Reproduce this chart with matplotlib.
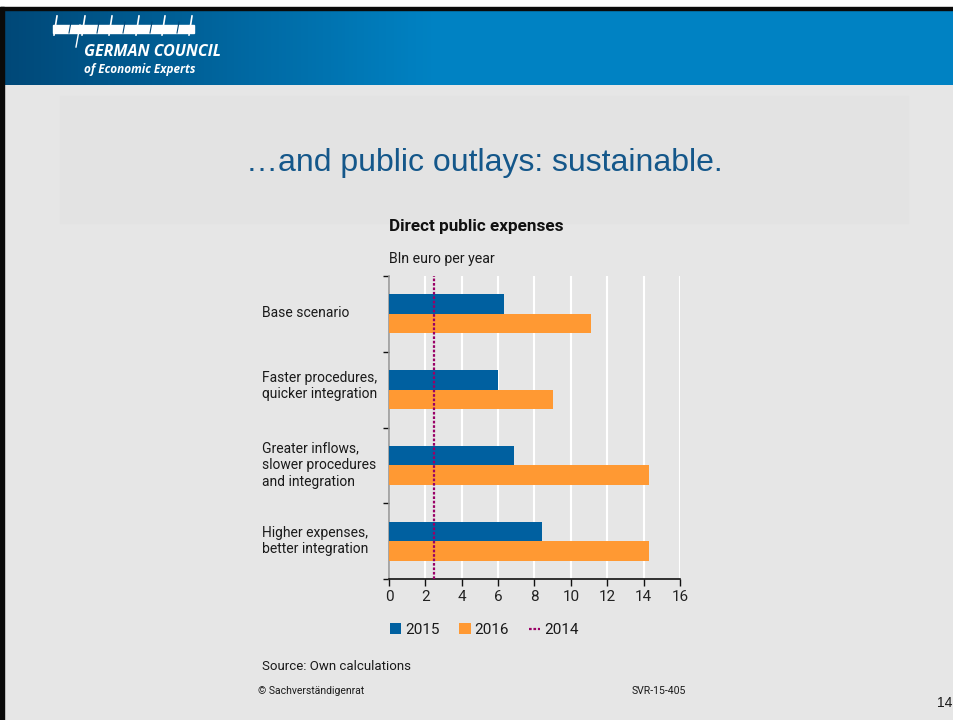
import numpy as np
import matplotlib
matplotlib.use("Agg")
import matplotlib.pyplot as plt
from matplotlib.patches import Rectangle, Patch
from matplotlib.lines import Line2D

# Scenario data (bn euro per year)
categories = [
    "Base scenario",
    "Faster procedures,\nquicker integration",
    "Greater inflows,\nslower procedures\nand integration",
    "Higher expenses,\nbetter integration",
]
values_2015 = [6.3, 6.0, 6.9, 8.4]
values_2016 = [11.1, 9.0, 14.3, 14.3]
value_2014 = 2.45
x_ticks = [0, 2, 4, 6, 8, 10, 12, 14, 16]

BLUE = "#0060a0"
ORANGE = "#ff9933"
PURPLE = "#990066"
BG = "#e6e6e6"
TXT_FONT = ["Roboto", "DejaVu Sans"]

W, H = 954, 720
fig = plt.figure(figsize=(W / 100, H / 100), dpi=100, facecolor=BG)


def fx(px):
    return px / W


def fy(py):
    return 1 - py / H


# Slide decoration layer in pixel coordinates
deco = fig.add_axes([0, 0, 1, 1], zorder=0)
deco.set_xlim(0, W)
deco.set_ylim(H, 0)
deco.axis("off")
deco.add_patch(Rectangle((0, 0), W, 7, color="white", zorder=1))
deco.add_patch(Rectangle((0, 7), W, 3, color="#0a0a0a", zorder=2))
deco.add_patch(Rectangle((0, 7), 4, H, color="#0a0a0a", zorder=2))
grad = np.linspace(0, 1, 256)
grad = np.clip(grad / 0.45, 0, 1)
c0 = np.array([0x00, 0x48, 0x78]) / 255
c1 = np.array([0x00, 0x82, 0xc3]) / 255
img = (c0[None, :] * (1 - grad[:, None]) + c1[None, :] * grad[:, None])[None, :, :]
deco.imshow(img, extent=(4, W, 85, 10), aspect="auto", zorder=1.5)
deco.add_patch(Rectangle((60, 96), 848, 127, color="#e3e3e3", zorder=1))

# Logo
deco.add_patch(Rectangle((53, 25), 141, 8, color="white", zorder=3))
for xs in [56, 84, 111, 138, 164, 191]:
    deco.plot([xs - 2, xs + 1], [35, 16], color="white", lw=1.2, zorder=3)
for xs in [70, 98, 124, 151, 178]:
    deco.plot([xs - 1, xs + 1], [33, 22], color="#00487a", lw=0.8, zorder=4)
deco.plot([76, 80], [47, 25], color="white", lw=1.0, zorder=3)
fig.text(fx(84), fy(52), "GERMAN COUNCIL", color="white", fontsize=11.5,
         fontweight="bold", style="italic", family="Open Sans",
         va="center", ha="left")
fig.text(fx(84), fy(69), "of Economic Experts", color="white", fontsize=8.5,
         fontweight="bold", style="italic", family="Open Sans", va="center", ha="left")

# Slide title
fig.text(fx(484), fy(163), "\u2026and public outlays: sustainable.", color="#14578a",
         fontsize=23, family="Liberation Sans", ha="center", va="center")

# Chart
ax = fig.add_axes([fx(389), fy(579), fx(680) - fx(389), fy(276) - fy(579)], zorder=2)
ax.set_facecolor(BG)
y = np.arange(len(categories))
h = 0.256
ax.barh(y - h / 2, values_2015, height=h, color=BLUE, zorder=3, label="2015")
ax.barh(y + h / 2, values_2016, height=h, color=ORANGE, zorder=3, label="2016")
ax.axvline(value_2014, color=PURPLE, lw=1.6, ls=(0, (1.2, 0.8)), zorder=4)
ax.set_xlim(0, 16)
ax.set_ylim(3.5, -0.5)
ax.set_xticks(x_ticks)
ax.set_xticklabels([str(t) for t in x_ticks], family=TXT_FONT, fontsize=11, color="#222222")
ax.set_yticks(np.arange(-0.5, len(categories), 1.0))
ax.set_yticklabels([])
ax.tick_params(axis="y", length=4, width=1, color="#111111", direction="out")
ax.tick_params(axis="x", length=5, width=1, color="#111111", direction="out", pad=3)
ax.grid(axis="x", color="white", lw=1.5, zorder=0)
ax.set_axisbelow(True)
for s in ["top", "right"]:
    ax.spines[s].set_visible(False)
ax.spines["left"].set_color("#9a9a9a")
ax.spines["left"].set_linewidth(1.2)
ax.spines["bottom"].set_color("#111111")
ax.spines["bottom"].set_linewidth(1.2)

label_centers = [313, 386, 465, 541]
for lab, py in zip(categories, label_centers):
    fig.text(fx(262), fy(py), lab, family=TXT_FONT, fontsize=10, color="#1a1a1a",
             ha="left", va="center", linespacing=1.25)

fig.text(fx(389), fy(226), "Direct public expenses", family=TXT_FONT, fontsize=12.3,
         fontweight="bold", color="#111111", ha="left", va="center")
fig.text(fx(389), fy(259), "Bln euro per year", family=TXT_FONT, fontsize=10.2,
         color="#1a1a1a", ha="left", va="center")

handles = [
    Patch(facecolor=BLUE, edgecolor="none"),
    Patch(facecolor=ORANGE, edgecolor="none"),
    Line2D([0], [0], color=PURPLE, lw=1.6, ls=(0, (1.2, 0.8))),
]
fig.legend(handles, ["2015", "2016", "2014"], loc="center left",
           bbox_to_anchor=(fx(376), fy(630)), ncol=3, frameon=False,
           prop={"family": TXT_FONT, "size": 11}, handlelength=0.75, handleheight=0.75,
           handletextpad=0.25, columnspacing=1.3, labelcolor="#1a1a1a")

fig.text(fx(262), fy(667), "Source: Own calculations", family=TXT_FONT, fontsize=9.5,
         color="#1a1a1a", ha="left", va="center")
fig.text(fx(258), fy(691), "\u00a9 Sachverst\u00e4ndigenrat", family=TXT_FONT, fontsize=7.5,
         color="#1a1a1a", ha="left", va="center")
fig.text(fx(632), fy(691), "SVR-15-405", family=TXT_FONT, fontsize=7.6,
         color="#1a1a1a", ha="left", va="center")
fig.text(fx(937), fy(703), "14", family="Liberation Sans", fontsize=10,
         color="#1a1a1a", ha="left", va="center")

fig.savefig("out.png", dpi=100, facecolor=BG)
